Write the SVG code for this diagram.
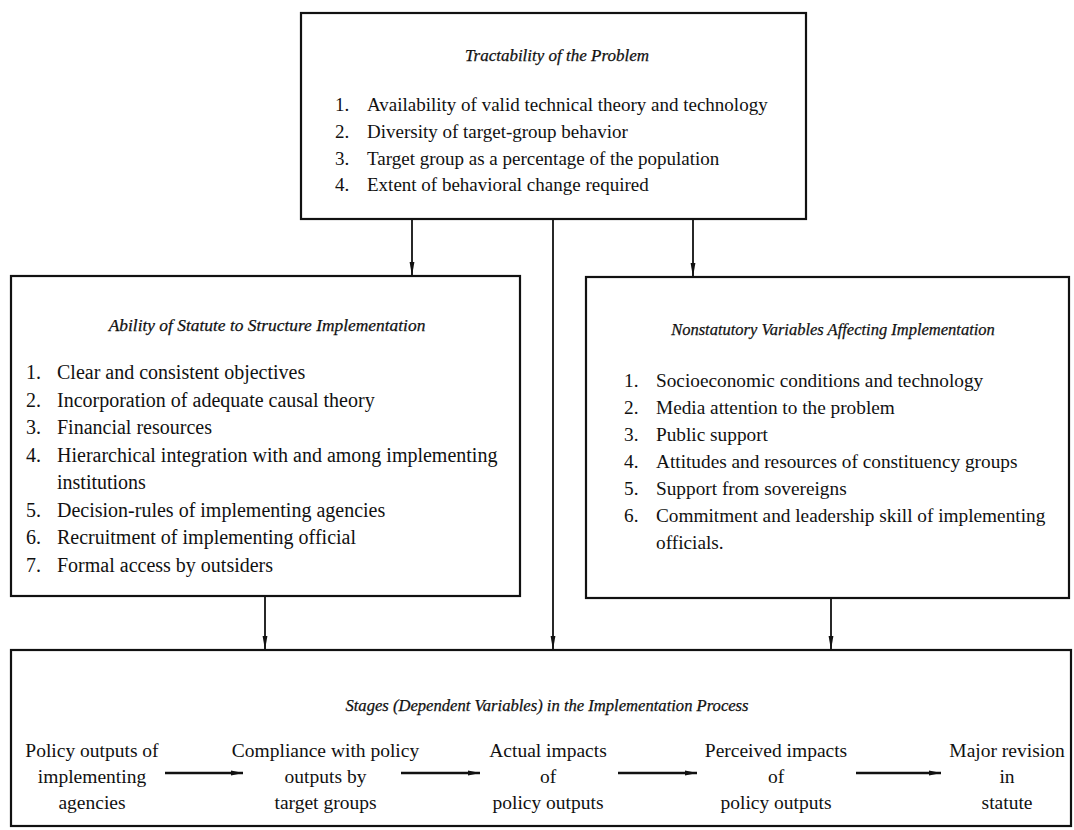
<svg xmlns="http://www.w3.org/2000/svg" width="1074" height="830" viewBox="0 0 1074 830">
  <defs>
    <marker id="headV" markerUnits="userSpaceOnUse" viewBox="0 0 14 6" refX="14" refY="3" markerWidth="14" markerHeight="6" orient="auto">
      <path d="M0,0.6 L14,3 L0,5.4 z" fill="#111"/>
    </marker>
    <marker id="headH" markerUnits="userSpaceOnUse" viewBox="0 0 12 6" refX="12" refY="3" markerWidth="12" markerHeight="6" orient="auto">
      <path d="M0,0.5 L12,3 L0,5.5 z" fill="#111"/>
    </marker>
  </defs>
  <style>
    .box { fill: #fff; stroke: #111; stroke-width: 2.2; }
    .title { font-family: "Liberation Serif", "Times New Roman", serif; font-style: italic; fill: #111; text-anchor: middle; stroke: #111; stroke-width: 0.25; }
    .item { font-family: "Liberation Serif", "Times New Roman", serif; fill: #111; }
    .stage { font-family: "Liberation Serif", "Times New Roman", serif; font-size: 19.5px; fill: #111; text-anchor: middle; }
    .wire { stroke: #111; stroke-width: 1.8; fill: none; }
    .flow { stroke: #111; stroke-width: 2.6; fill: none; }
  </style>
  <rect width="1074" height="830" fill="#fff"/>

  <!-- connectors -->
  <g id="connectors">
    <line class="wire" x1="412" y1="220" x2="412" y2="276" marker-end="url(#headV)"/>
    <line class="wire" x1="693" y1="220" x2="693" y2="277" marker-end="url(#headV)"/>
    <line class="wire" x1="553" y1="220" x2="553" y2="650" marker-end="url(#headV)"/>
    <line class="wire" x1="265" y1="597" x2="265" y2="650" marker-end="url(#headV)"/>
    <line class="wire" x1="831" y1="599" x2="831" y2="650" marker-end="url(#headV)"/>
  </g>

  <!-- Tractability of the Problem -->
  <g id="tractability">
    <rect class="box" x="301" y="13" width="505" height="206"/>
    <text class="title" x="557" y="61" font-size="17">Tractability of the Problem</text>
    <g class="item" font-size="19">
      <text x="335" y="111">1.</text><text x="367" y="111">Availability of valid technical theory and technology</text>
      <text x="335" y="138">2.</text><text x="367" y="138">Diversity of target-group behavior</text>
      <text x="335" y="165">3.</text><text x="367" y="165">Target group as a percentage of the population</text>
      <text x="335" y="191">4.</text><text x="367" y="191">Extent of behavioral change required</text>
    </g>
  </g>

  <!-- Ability of Statute to Structure Implementation -->
  <g id="statute">
    <rect class="box" x="11" y="276" width="509" height="320"/>
    <text class="title" x="267" y="331" font-size="17.4">Ability of Statute to Structure Implementation</text>
    <g class="item" font-size="20">
      <text x="26" y="379">1.</text><text x="57" y="379">Clear and consistent objectives</text>
      <text x="26" y="406.5">2.</text><text x="57" y="406.5">Incorporation of adequate causal theory</text>
      <text x="26" y="434">3.</text><text x="57" y="434">Financial resources</text>
      <text x="26" y="461.5">4.</text><text x="57" y="461.5">Hierarchical integration with and among implementing</text>
      <text x="57" y="489">institutions</text>
      <text x="26" y="516.5">5.</text><text x="57" y="516.5">Decision-rules of implementing agencies</text>
      <text x="26" y="544">6.</text><text x="57" y="544">Recruitment of implementing official</text>
      <text x="26" y="571.5">7.</text><text x="57" y="571.5">Formal access by outsiders</text>
    </g>
  </g>

  <!-- Nonstatutory Variables Affecting Implementation -->
  <g id="nonstatutory">
    <rect class="box" x="586" y="277" width="483" height="321"/>
    <text class="title" x="833" y="335" font-size="16.5">Nonstatutory Variables Affecting Implementation</text>
    <g class="item" font-size="19.3">
      <text x="624" y="387">1.</text><text x="656" y="387">Socioeconomic conditions and technology</text>
      <text x="624" y="414">2.</text><text x="656" y="414">Media attention to the problem</text>
      <text x="624" y="441">3.</text><text x="656" y="441">Public support</text>
      <text x="624" y="468">4.</text><text x="656" y="468">Attitudes and resources of constituency groups</text>
      <text x="624" y="495">5.</text><text x="656" y="495">Support from sovereigns</text>
      <text x="624" y="522">6.</text><text x="656" y="522">Commitment and leadership skill of implementing</text>
      <text x="656" y="549">officials.</text>
    </g>
  </g>

  <!-- Stages (Dependent Variables) in the Implementation Process -->
  <g id="stages">
    <rect class="box" x="11" y="650" width="1060" height="176"/>
    <text class="title" x="547" y="711" font-size="16.6">Stages (Dependent Variables) in the Implementation Process</text>
    <g id="stage-outputs">
      <text class="stage" x="92" y="757">Policy outputs of</text>
      <text class="stage" x="92" y="783">implementing</text>
      <text class="stage" x="92" y="809">agencies</text>
    </g>
    <g id="stage-compliance">
      <text class="stage" x="325.5" y="757">Compliance with policy</text>
      <text class="stage" x="325.5" y="783">outputs by</text>
      <text class="stage" x="325.5" y="809">target groups</text>
    </g>
    <g id="stage-actual">
      <text class="stage" x="548" y="757">Actual impacts</text>
      <text class="stage" x="548" y="783">of</text>
      <text class="stage" x="548" y="809">policy outputs</text>
    </g>
    <g id="stage-perceived">
      <text class="stage" x="776" y="757">Perceived impacts</text>
      <text class="stage" x="776" y="783">of</text>
      <text class="stage" x="776" y="809">policy outputs</text>
    </g>
    <g id="stage-revision">
      <text class="stage" x="1007" y="757">Major revision</text>
      <text class="stage" x="1007" y="783">in</text>
      <text class="stage" x="1007" y="809">statute</text>
    </g>
    <g id="stage-flow">
      <line class="flow" x1="165" y1="773" x2="243" y2="773" marker-end="url(#headH)"/>
      <line class="flow" x1="401" y1="773" x2="480" y2="773" marker-end="url(#headH)"/>
      <line class="flow" x1="618" y1="773" x2="697" y2="773" marker-end="url(#headH)"/>
      <line class="flow" x1="856" y1="773" x2="941" y2="773" marker-end="url(#headH)"/>
    </g>
  </g>
</svg>
